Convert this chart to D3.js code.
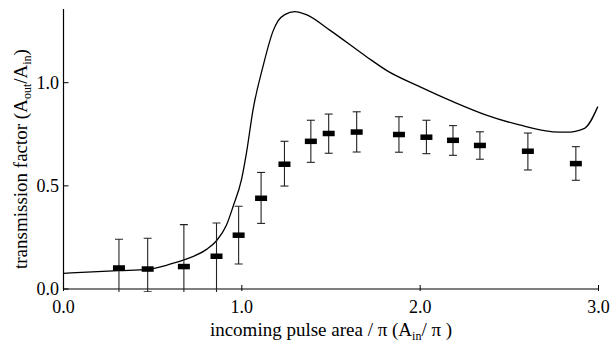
<!DOCTYPE html>
<html>
<head>
<meta charset="utf-8">
<script src="https://cdn.jsdelivr.net/npm/d3@7"></script>
<style>
  body { margin: 0; background: #fff; }
  text { font-family: "Liberation Serif", "DejaVu Serif", serif; fill: #000; }
</style>
</head>
<body>
<div id="chart"></div>
<script>
// Chart size
const width = 610;
const height = 346;
const margin = { top: 9, right: 11, bottom: 57, left: 63.5 };

// Measured points: pulse area / pi, transmission factor, error bar ends
const pulseArea = [0.311, 0.472, 0.675, 0.858, 0.982, 1.108, 1.239, 1.387, 1.487, 1.644, 1.881, 2.035, 2.184, 2.335, 2.604, 2.873];
const transmission = [0.103, 0.098, 0.110, 0.160, 0.262, 0.441, 0.606, 0.717, 0.755, 0.762, 0.750, 0.737, 0.722, 0.697, 0.669, 0.609];
const errHigh = [0.241, 0.246, 0.312, 0.320, 0.401, 0.565, 0.716, 0.818, 0.848, 0.859, 0.835, 0.818, 0.792, 0.762, 0.756, 0.690];
const errLow = [-0.1, -0.013, -0.1, -0.1, 0.121, 0.318, 0.499, 0.614, 0.658, 0.664, 0.663, 0.656, 0.648, 0.629, 0.577, 0.527];

// Theory curve
const curveX = [0, 0.309, 0.472, 0.597, 0.675, 0.802, 0.858, 0.914, 0.951, 0.998, 1.026, 1.063, 1.119, 1.175, 1.203, 1.241, 1.297, 1.362, 1.493, 1.699, 1.811, 1.997, 2.184, 2.371, 2.557, 2.744, 2.819, 2.922, 2.996];
const curveY = [0.076, 0.089, 0.095, 0.120, 0.141, 0.192, 0.234, 0.310, 0.400, 0.530, 0.660, 0.870, 1.080, 1.250, 1.300, 1.330, 1.345, 1.330, 1.255, 1.126, 1.060, 0.981, 0.908, 0.843, 0.795, 0.762, 0.760, 0.779, 0.884];

// Tick labels
const xTicks = [0, 1, 2, 3];
const yTicks = [0, 0.5, 1.0];

const x = d3.scaleLinear().domain([0, 3]).range([margin.left, width - margin.right - 0.5]);
const y = d3.scaleLinear().domain([0, 1]).range([height - margin.bottom, 82.7]);

const svg = d3.select("#chart").append("svg")
  .attr("width", width)
  .attr("height", height);

// clip so error bars stop just under the x axis
svg.append("clipPath").attr("id", "plotclip")
  .append("rect")
  .attr("x", margin.left).attr("y", 0)
  .attr("width", width - margin.left).attr("height", y(0) + 3);

// Axes
const xAxis = svg.append("g").attr("transform", `translate(0,${y(0)})`);
xAxis.append("line")
  .attr("x1", x(0)).attr("x2", x(3))
  .attr("stroke", "#000").attr("stroke-width", 1.2);
xAxis.selectAll(".tick").data(xTicks).enter().append("line")
  .attr("x1", d => x(d)).attr("x2", d => x(d))
  .attr("y1", -4).attr("y2", 2)
  .attr("stroke", "#000").attr("stroke-width", 1);
xAxis.selectAll(".lbl").data(xTicks).enter().append("text")
  .attr("x", d => x(d)).attr("y", 24)
  .attr("text-anchor", "middle")
  .style("font-size", "18px")
  .text(d => d3.format(".1f")(d));

const yAxis = svg.append("g").attr("transform", `translate(${x(0)},0)`);
yAxis.append("line")
  .attr("y1", y(0)).attr("y2", margin.top)
  .attr("stroke", "#000").attr("stroke-width", 1.2);
yAxis.selectAll(".tick").data(yTicks).enter().append("line")
  .attr("x1", 0).attr("x2", 5)
  .attr("y1", d => y(d)).attr("y2", d => y(d))
  .attr("stroke", "#000").attr("stroke-width", 1);
yAxis.selectAll(".lbl").data(yTicks).enter().append("text")
  .attr("x", -4.5).attr("y", d => y(d) + 6)
  .attr("text-anchor", "end")
  .style("font-size", "18px")
  .text(d => d3.format(".1f")(d));

// Theory line
const line = d3.line()
  .x(d => x(d[0]))
  .y(d => y(d[1]))
  .curve(d3.curveMonotoneX);

svg.append("path")
  .datum(d3.zip(curveX, curveY))
  .attr("d", line)
  .attr("fill", "none")
  .attr("stroke", "#000")
  .attr("stroke-width", 1.3);

// Error bars and markers
const pts = pulseArea.map((a, i) => ({ a, t: transmission[i], hi: errHigh[i], lo: errLow[i] }));
const bars = svg.append("g").attr("clip-path", "url(#plotclip)");
const cap = 4;

bars.selectAll(".stem").data(pts).enter().append("line")
  .attr("x1", d => x(d.a)).attr("x2", d => x(d.a))
  .attr("y1", d => y(d.hi)).attr("y2", d => y(d.lo))
  .attr("stroke", "#222").attr("stroke-width", 1.1);
bars.selectAll(".capHi").data(pts).enter().append("line")
  .attr("x1", d => x(d.a) - cap).attr("x2", d => x(d.a) + cap)
  .attr("y1", d => y(d.hi)).attr("y2", d => y(d.hi))
  .attr("stroke", "#222").attr("stroke-width", 1.1);
bars.selectAll(".capLo").data(pts.filter(d => d.lo > -0.05)).enter().append("line")
  .attr("x1", d => x(d.a) - cap).attr("x2", d => x(d.a) + cap)
  .attr("y1", d => y(d.lo)).attr("y2", d => y(d.lo))
  .attr("stroke", "#222").attr("stroke-width", 1.1);

svg.selectAll(".mark").data(pts).enter().append("rect")
  .attr("x", d => x(d.a) - 6).attr("y", d => y(d.t) - 2.5)
  .attr("width", 12).attr("height", 5.5)
  .attr("fill", "#000");

// Axis titles
const xt = svg.append("text")
  .attr("x", x(1.5)).attr("y", 336)
  .attr("text-anchor", "middle")
  .style("font-size", "19px");
xt.append("tspan").text("incoming pulse area / \u03c0 (A");
xt.append("tspan").attr("dy", 4).style("font-size", "12px").text("in");
xt.append("tspan").attr("dy", -4).text("/ \u03c0 )");

const yt = svg.append("text")
  .attr("transform", `translate(27,${y(0.63)}) rotate(-90)`)
  .attr("text-anchor", "middle")
  .style("font-size", "19px");
yt.append("tspan").text("transmission factor (A");
yt.append("tspan").attr("dy", 4).style("font-size", "12px").text("out");
yt.append("tspan").attr("dy", -4).text("/A");
yt.append("tspan").attr("dy", 4).style("font-size", "12px").text("in");
yt.append("tspan").attr("dy", -4).text(")");
</script>
</body>
</html>
